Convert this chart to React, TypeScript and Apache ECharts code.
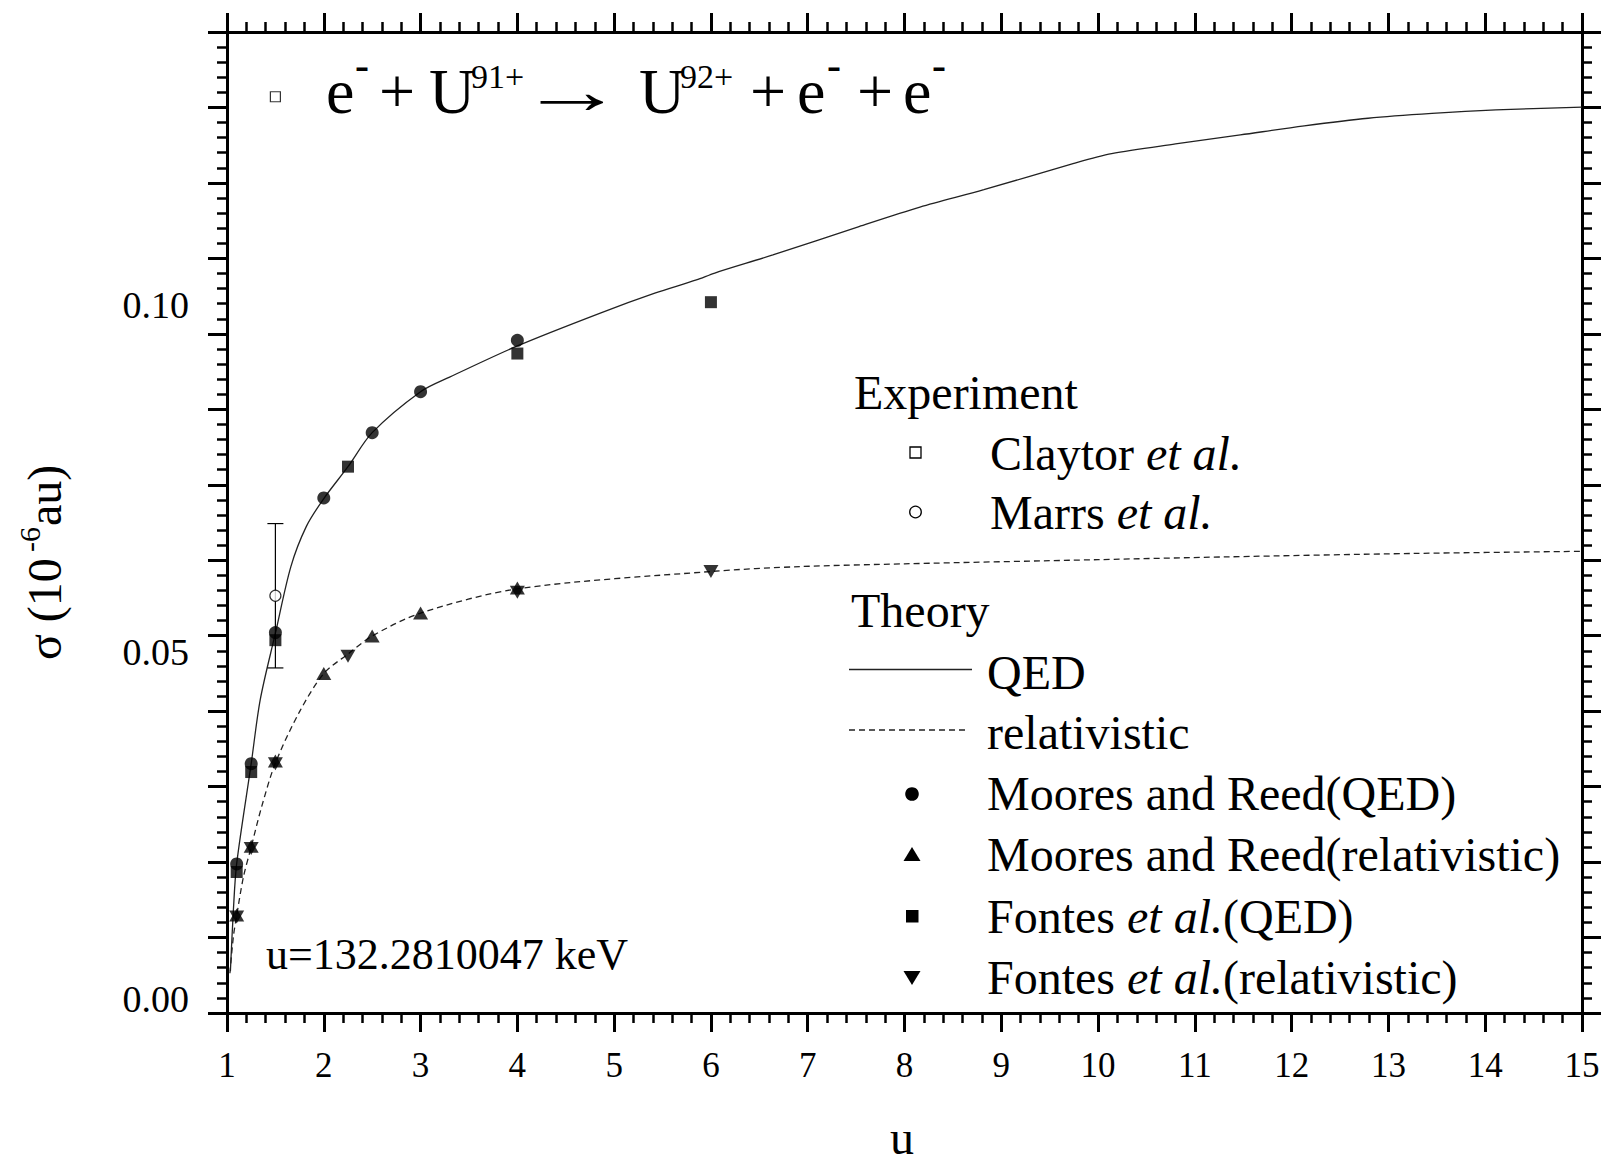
import React, { useEffect, useRef } from "react";
import * as echarts from "echarts";

const FONT = '"Liberation Serif", "Times New Roman", "DejaVu Serif", serif';

// ---------- data ----------
const qedCurveU = [1.035, 1.066, 1.1, 1.25, 1.343, 1.5, 1.66, 1.82, 2, 2.25, 2.5, 3, 3.3, 4, 4.85, 5.42, 5.85, 6.04, 6.64, 7.53, 8.16, 8.82, 9.75, 10.14, 10.8, 11.47, 12.13, 12.79, 13.45, 14.11, 15];
const qedCurveSigma = [0.004, 0.0128, 0.0195, 0.0339, 0.0431, 0.0527, 0.0623, 0.0681, 0.0721, 0.0767, 0.0816, 0.0875, 0.0896, 0.0941, 0.0988, 0.1017, 0.1036, 0.1046, 0.1072, 0.1113, 0.1141, 0.1166, 0.1204, 0.1218, 0.1232, 0.1245, 0.1258, 0.1269, 0.1276, 0.1281, 0.1285];

const relCurveU = [1.03, 1.066, 1.1, 1.17, 1.25, 1.358, 1.5, 1.75, 2, 2.25, 2.5, 3, 4, 6, 6.92, 8, 10, 11.32, 13.27, 15];
const relCurveSigma = [0.0037, 0.009, 0.012, 0.0176, 0.0219, 0.0277, 0.034, 0.0414, 0.0469, 0.0497, 0.0523, 0.0556, 0.0591, 0.0616, 0.0623, 0.0627, 0.0633, 0.0637, 0.0642, 0.0645];

const mooresQedU = [1.1, 1.25, 1.5, 2, 2.5, 3, 4];
const mooresQedSigma = [0.01945, 0.0339, 0.0528, 0.0722, 0.0816, 0.0875, 0.0949];

const fontesQedU = [1.1, 1.25, 1.5, 2.25, 4, 6];
const fontesQedSigma = [0.0183, 0.0327, 0.0517, 0.0767, 0.093, 0.1004];

const mooresRelU = [1.1, 1.25, 1.5, 2, 2.5, 3, 4];
const mooresRelSigma = [0.0121, 0.022, 0.0343, 0.0469, 0.0523, 0.0556, 0.0592];

const fontesRelU = [1.1, 1.25, 1.5, 2.25, 4, 6];
const fontesRelSigma = [0.0118, 0.0217, 0.0339, 0.0494, 0.0586, 0.0616];

const marrsU = [1.5];
const marrsSigma = [0.0581];
const marrsErr = [0.0104];

const claytorU = [1.5];
const claytorSigma = [0.13];

const yLabelValues = [0, 0.05, 0.1];
const xMin = 1;
const xMax = 15;
const xInterval = 1;
const yMin = -0.00202;
const yInterval = 0.010873;
const yMax = yMin + 13 * yInterval;

const pairs = (xs: number[], ys: number[]) => xs.map((x, i) => [x, ys[i]]);

// ---------- layout helpers ----------
const txt = (text: string, x: number, y: number, fontSize: number, extra: any = {}, el: any = {}) => ({
  type: "text",
  x,
  y,
  silent: true,
  ...el,
  style: {
    text,
    fontSize,
    fontFamily: FONT,
    fill: "#000",
    textAlign: "left",
    textVerticalAlign: "middle",
    ...extra,
  },
});

const legendRich = (fs: number) => ({
  n: { fontSize: fs, fontFamily: FONT, fill: "#000", color: "#000" },
  i: { fontSize: fs, fontFamily: FONT, fontStyle: "italic", fill: "#000", color: "#000" },
});

const richTxt = (text: string, x: number, y: number, fs: number) => ({
  type: "text",
  x,
  y,
  silent: true,
  style: {
    text,
    fontSize: fs,
    fontFamily: FONT,
    fill: "#000",
    textAlign: "left",
    textVerticalAlign: "middle",
    rich: legendRich(fs),
  },
});

const titleMain = 64;
const titleSup = 34;
const titleY = 91;
const titleSupY = 76;
const barY = 65;
const barFont = 42;

function buildGraphic() {
  const els: any[] = [];
  const bar = { fontWeight: "bold" };
  // title reaction
  els.push(txt("e", 326, titleY, titleMain));
  els.push(txt("-", 355, barY, barFont, bar));
  els.push(txt("+", 379, titleY, titleMain));
  els.push(txt("U", 429, titleY, titleMain));
  els.push(txt("91+", 471, titleSupY, titleSup));
  els.push(txt("\u2192", 519, titleY, titleMain, {}, { scaleX: 1.65 }));
  els.push(txt("U", 639, titleY, titleMain));
  els.push(txt("92+", 680, titleSupY, titleSup));
  els.push(txt("+", 750, titleY, titleMain));
  els.push(txt("e", 797, titleY, titleMain));
  els.push(txt("-", 827, barY, barFont, bar));
  els.push(txt("+", 857, titleY, titleMain));
  els.push(txt("e", 903, titleY, titleMain));
  els.push(txt("-", 932, barY, barFont, bar));

  // note
  els.push(txt("u=132.2810047 keV", 266, 954, 44));

  // x axis name
  els.push(txt("u", 902, 1137, 48, { textAlign: "center", lineHeight: 46 }));

  // y axis name (rotated)
  els.push({
    type: "group",
    x: 44,
    y: 562,
    rotation: Math.PI / 2,
    silent: true,
    children: [
      txt("\u03c3 (10", -98, 0, 48),
      txt("-6", 10, -15, 30),
      txt("au)", 36, 0, 48),
    ],
  });

  // legend
  const fs = 48;
  els.push(txt("Experiment", 854, 392, fs));
  els.push({ type: "rect", silent: true, shape: { x: 910, y: 447, width: 11, height: 11 }, style: { fill: "#fff", stroke: "#000", lineWidth: 1.3 } });
  els.push(richTxt("{n|Claytor }{i|et al.}", 990, 453, fs));
  els.push({ type: "circle", silent: true, shape: { cx: 915.5, cy: 512, r: 5.8 }, style: { fill: "#fff", stroke: "#000", lineWidth: 1.3 } });
  els.push(richTxt("{n|Marrs }{i|et al.}", 990, 512, fs));
  els.push(txt("Theory", 851, 610, fs));
  els.push({ type: "line", silent: true, shape: { x1: 849, y1: 669.5, x2: 972, y2: 669.5 }, style: { stroke: "#222", lineWidth: 1.3 } });
  els.push(txt("QED", 987, 672, fs));
  els.push({ type: "line", silent: true, shape: { x1: 849, y1: 730, x2: 967, y2: 730 }, style: { stroke: "#222", lineWidth: 1.3, lineDash: [6, 4] } });
  els.push(txt("relativistic", 987, 732, fs));
  els.push({ type: "circle", silent: true, shape: { cx: 912, cy: 794, r: 6.8 }, style: { fill: "#000" } });
  els.push(txt("Moores and Reed(QED)", 987, 793, fs));
  els.push({ type: "polygon", silent: true, shape: { points: [[912, 847], [920.5, 861], [903.5, 861]] }, style: { fill: "#000" } });
  els.push(txt("Moores and Reed(relativistic)", 987, 854, fs));
  els.push({ type: "rect", silent: true, shape: { x: 906, y: 910, width: 12.5, height: 12.5 }, style: { fill: "#000" } });
  els.push(richTxt("{n|Fontes }{i|et al.}{n|(QED)}", 987, 916, fs));
  els.push({ type: "polygon", silent: true, shape: { points: [[903.5, 971], [920.5, 971], [912, 985]] }, style: { fill: "#000" } });
  els.push(richTxt("{n|Fontes }{i|et al.}{n|(relativistic)}", 987, 977, fs));
  return els;
}

const axisLineStyle = { color: "#000", width: 3 };

function baseAxis(extra: any) {
  return {
    type: "value",
    axisLine: { show: true, onZero: false, lineStyle: axisLineStyle },
    axisTick: { show: true, inside: false, length: 19, lineStyle: { color: "#000", width: 3 } },
    minorTick: { show: true, splitNumber: 5, length: 10, lineStyle: { color: "#000", width: 2.5 } },
    splitLine: { show: false },
    minorSplitLine: { show: false },
    ...extra,
  };
}

function buildOption() {
  return {
    animation: false,
    backgroundColor: "#fff",
    grid: { left: 227, right: 22, top: 32, bottom: 150, containLabel: false, outerBoundsMode: "none" },
    graphic: { elements: buildGraphic() },
    xAxis: [
      baseAxis({
        position: "bottom",
        min: xMin,
        max: xMax,
        interval: xInterval,
        axisLabel: { show: true, fontSize: 35, fontFamily: FONT, color: "#000", margin: 35 },
      }),
      baseAxis({
        position: "top",
        min: xMin,
        max: xMax,
        interval: xInterval,
        axisLabel: { show: false },
      }),
    ],
    yAxis: [
      baseAxis({
        position: "left",
        min: yMin,
        max: yMax,
        interval: yInterval,
        axisLabel: {
          show: true,
          customValues: yLabelValues,
          formatter: (v: number) => v.toFixed(2),
          fontSize: 38,
          fontFamily: FONT,
          color: "#000",
          margin: 38,
        },
      }),
      baseAxis({
        position: "right",
        min: yMin,
        max: yMax,
        interval: yInterval,
        axisLabel: { show: false },
      }),
    ],
    series: [
      {
        name: "QED",
        type: "line",
        data: pairs(qedCurveU, qedCurveSigma),
        symbol: "none",
        smooth: 0.3,
        lineStyle: { color: "#222", width: 1.3 },
        z: 2,
        silent: true,
      },
      {
        name: "relativistic",
        type: "line",
        data: pairs(relCurveU, relCurveSigma),
        symbol: "none",
        smooth: 0.3,
        lineStyle: { color: "#222", width: 1.3, type: [6, 4] },
        z: 2,
        silent: true,
      },
      {
        name: "Marrs et al. error",
        type: "custom",
        data: marrsU.map((u, i) => [u, marrsSigma[i] - marrsErr[i], marrsSigma[i] + marrsErr[i]]),
        renderItem: (_p: any, api: any) => {
          const lo = api.coord([api.value(0), api.value(1)]);
          const hi = api.coord([api.value(0), api.value(2)]);
          const w = 8;
          const st = { stroke: "#000", lineWidth: 1.2 };
          return {
            type: "group",
            children: [
              { type: "line", shape: { x1: lo[0], y1: lo[1], x2: hi[0], y2: hi[1] }, style: st },
              { type: "line", shape: { x1: lo[0] - w, y1: lo[1], x2: lo[0] + w, y2: lo[1] }, style: st },
              { type: "line", shape: { x1: hi[0] - w, y1: hi[1], x2: hi[0] + w, y2: hi[1] }, style: st },
            ],
          };
        },
        z: 3,
        silent: true,
      },
      {
        name: "Marrs et al.",
        type: "scatter",
        data: pairs(marrsU, marrsSigma),
        symbol: "circle",
        symbolSize: 11,
        itemStyle: { color: "#fff", borderColor: "#000", borderWidth: 1.2 },
        z: 4,
        silent: true,
      },
      {
        name: "Claytor et al.",
        type: "scatter",
        data: pairs(claytorU, claytorSigma),
        symbol: "rect",
        symbolSize: 10,
        itemStyle: { color: "#fff", borderColor: "#000", borderWidth: 1.2 },
        z: 4,
        silent: true,
      },
      {
        name: "Moores and Reed(QED)",
        type: "scatter",
        data: pairs(mooresQedU, mooresQedSigma),
        symbol: "circle",
        symbolSize: 13,
        itemStyle: { color: "#000" },
        z: 5,
        silent: true,
      },
      {
        name: "Fontes et al.(QED)",
        type: "scatter",
        data: pairs(fontesQedU, fontesQedSigma),
        symbol: "rect",
        symbolSize: 12,
        itemStyle: { color: "#000" },
        z: 5,
        silent: true,
      },
      {
        name: "Moores and Reed(relativistic)",
        type: "scatter",
        data: pairs(mooresRelU, mooresRelSigma),
        symbol: "triangle",
        symbolSize: [15, 13],
        itemStyle: { color: "#000" },
        z: 5,
        silent: true,
      },
      {
        name: "Fontes et al.(relativistic)",
        type: "scatter",
        data: pairs(fontesRelU, fontesRelSigma),
        symbol: "triangle",
        symbolRotate: 180,
        symbolSize: [15, 13],
        itemStyle: { color: "#000" },
        z: 5,
        silent: true,
      },
    ],
  };
}

export default function App() {
  const ref = useRef<HTMLDivElement>(null);
  useEffect(() => {
    if (!ref.current) return;
    const chart = echarts.init(ref.current, undefined, { renderer: "svg" });
    chart.setOption(buildOption() as any);
    return () => chart.dispose();
  }, []);
  return (
    <div
      ref={ref}
      style={{ position: "absolute", left: 0, top: 0, width: 1604, height: 1163, background: "#fff" }}
    />
  );
}
